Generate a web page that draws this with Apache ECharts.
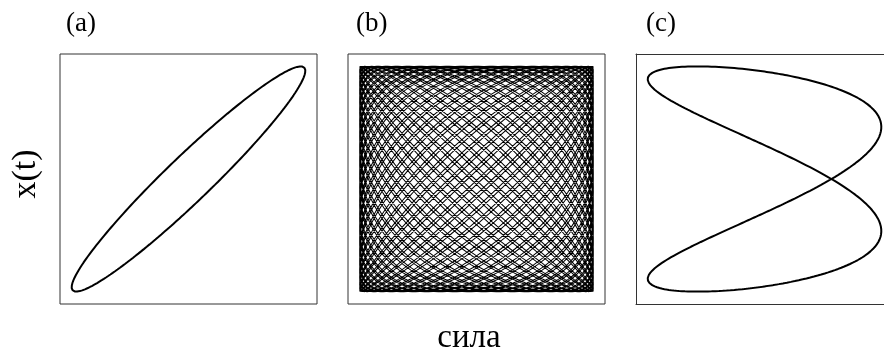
<!DOCTYPE html>
<html><head><meta charset="utf-8">
<script src="https://cdn.jsdelivr.net/npm/echarts@6/dist/echarts.min.js"></script>
<style>html,body{margin:0;padding:0;background:#fff;overflow:hidden}#c{width:884px;height:352px}</style>
</head><body><div id="c"></div>
<script>
// Panel texts
const panelLabels = ['(a)', '(b)', '(c)'];
const xAxisName = 'сила';
const yAxisName = 'x(t)';
// Lissajous parameters:
// x(t) = ampX * sin(θ),  force = ampF * sin(freqRatio * θ + phase)
const ampX = [1, 1, 1];
const ampF = [1, 1, 1];
const freqRatio = [1, 1 + 1 / 50, 2];
const phase = [0.28, 0.05, 0.61];
const cycles = [1, 50, 1];
const samplesPerCycle = [720, 160, 720];
// axis extents per panel (force, x); panel (c) is cut off by the right edge of the picture
const forceMin = [-1.1, -1.1, -1.1];
const forceMax = [1.1, 1.1, 1.023];
const xRange = [-1.11, 1.11];

function curve(k) {
  const pts = [];
  const n = cycles[k] * samplesPerCycle[k];
  for (let i = 0; i <= n; i++) {
    const th = 2 * Math.PI * cycles[k] * i / n;
    pts.push([ampF[k] * Math.sin(freqRatio[k] * th + phase[k]), ampX[k] * Math.sin(th)]);
  }
  return pts;
}

const lefts = [60, 348, 636];
const gridW = [257, 257, 248];
const labelX = [66, 356, 646];
const widths = [2, 1.05, 2];
const frame = {show: true, onZero: false, lineStyle: {color: '#333', width: 1}};
const grids = [], xAxes = [], yAxes = [], series = [], graphics = [];
for (let k = 0; k < 3; k++) {
  const clipped = k === 2;
  grids.push({left: lefts[k], top: 54, width: gridW[k], height: 250, show: !clipped,
    outerBoundsMode: 'none', containLabel: false,
    borderColor: '#333', borderWidth: 1, backgroundColor: 'transparent'});
  const base = {type: 'value', gridIndex: k, min: forceMin[k], max: forceMax[k],
    axisLabel: {show: false}, axisTick: {show: false}, splitLine: {show: false}};
  if (clipped) {
    xAxes.push(Object.assign({position: 'bottom', axisLine: frame}, base));
    xAxes.push(Object.assign({position: 'top', axisLine: frame}, base));
    yAxes.push({type: 'value', gridIndex: k, min: xRange[0], max: xRange[1], position: 'left',
      axisLine: frame, axisLabel: {show: false}, axisTick: {show: false}, splitLine: {show: false}});
  } else {
    xAxes.push(Object.assign({show: false}, base));
    yAxes.push({type: 'value', gridIndex: k, min: xRange[0], max: xRange[1], show: false});
  }
}
let xi = 0;
for (let k = 0; k < 3; k++) {
  series.push({type: 'line', xAxisIndex: xi, yAxisIndex: k, data: curve(k), showSymbol: false,
    symbol: 'none', lineStyle: {color: '#000', width: widths[k]}, silent: true});
  xi += 1;
  graphics.push({type: 'text', left: labelX[k], top: 10,
    style: {text: panelLabels[k], font: '27px "Liberation Serif"', fill: '#000'}});
}
graphics.push({type: 'text', x: 26, y: 174, rotation: Math.PI / 2,
  style: {text: yAxisName, font: '34px "Liberation Serif"', fill: '#000', textAlign: 'center', textVerticalAlign: 'middle'}});
graphics.push({type: 'text', x: 469, y: 338,
  style: {text: xAxisName, font: '33px "Liberation Serif"', fill: '#000', textAlign: 'center', textVerticalAlign: 'middle'}});

const chart = echarts.init(document.getElementById('c'));
chart.setOption({animation: false, grid: grids, xAxis: xAxes, yAxis: yAxes, series: series, graphic: graphics});
</script></body></html>
